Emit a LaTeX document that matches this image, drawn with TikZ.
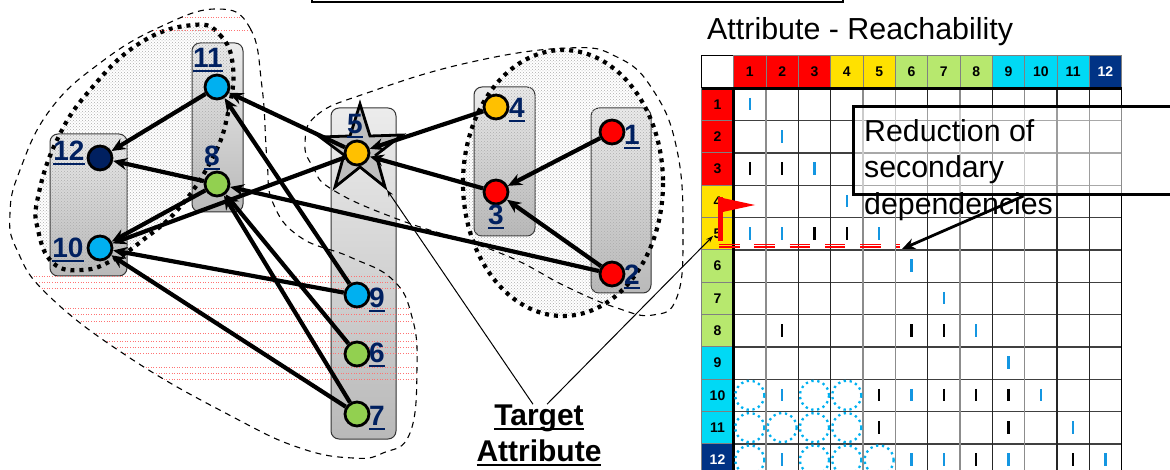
\documentclass[tikz,border=0pt]{standalone}
\usepackage{fontspec}
\setmainfont{Liberation Sans}
\usetikzlibrary{arrows.meta,shapes.geometric,patterns}

\definecolor{attrnavy}{RGB}{0,32,96}
\definecolor{attrblue}{RGB}{0,176,240}
\definecolor{attrgreen}{RGB}{146,208,80}
\definecolor{attramber}{RGB}{255,192,0}
\definecolor{headred}{RGB}{255,0,0}
\definecolor{headyellow}{RGB}{255,225,0}
\definecolor{headgreen}{RGB}{183,232,110}
\definecolor{headcyan}{RGB}{0,217,245}
\definecolor{headnavy}{RGB}{0,51,133}
\definecolor{markblue}{RGB}{20,150,225}

\newcommand{\ulabel}[1]{\leavevmode\setbox0=\hbox{#1}\hbox to \wd0{\rlap{\vrule width\wd0 height -2.5pt depth 4.5pt}\box0}}
\newcommand{\leftregion}{plot[smooth cycle, tension=0.75] coordinates {(217,9) (250,28) (262,87) (267,160) (273,203) (300,237) (350,257) (393,280) (412,317) (417,367) (410,433) (383,453) (353,458) (300,448) (233,417) (133,360) (50,297) (17,250) (10,213) (20,170) (50,110) (100,63) (160,27)}}
\newcommand{\leftblob}{plot[smooth cycle, tension=0.75] coordinates {(193,25) (220,35) (233,67) (228,113) (213,157) (180,207) (143,240) (113,260) (83,270) (53,263) (38,230) (38,197) (57,140) (90,90) (140,43)}}

\tikzset{
	attrbox/.style = {draw = black!80, line width = 1pt, rounded corners = 8pt, top color = gray!15, bottom color = gray!55},
	attrnode/.style = {draw, circle, line width = 2.8pt, inner sep = 0pt, minimum size = 24pt},
	attrlabel/.style = {anchor = base, inner sep = 0pt, text = attrnavy, font = \fontsize{28}{30}\selectfont\bfseries},
	attrarrow/.style = {-{Stealth[length = 14pt, width = 12pt]}, line width = 4.2pt},
	callout/.style = {-{Stealth[length = 7pt, width = 5pt]}, line width = 1pt},
	halftone/.style = {pattern = crosshatch dots, pattern color = gray!65},
	thickdots/.style = {line width = 4.2pt, dash pattern = on 4pt off 5pt},
	regionline/.style = {line width = 1.1pt, dash pattern = on 6pt off 5pt},
	headcell/.style = {draw = black!50, line width = 0.8pt, inner sep = 0pt, minimum width = 32.3pt, minimum height = 32.3pt, font = \fontsize{14}{14}\selectfont\bfseries},
	hitcircle/.style = {draw = attrblue, circle, line width = 2.3pt, dash pattern = on 2.3pt off 3.6pt, minimum size = 29pt, inner sep = 0pt},
	reddash/.style = {red, line width = 1.4pt, dash pattern = on 20.5pt off 14.8pt}
}

\begin{document}
\begin{tikzpicture}[x = 1pt, y = -1pt]
	\useasboundingbox (0,0) rectangle (1170,470);
	\clip (0,0) rectangle (1170,470);

	% groups of attributes
	\draw[attrbox] (192,43) rectangle (243,212);
	\draw[attrbox] (50,134) rectangle (127,276);
	\draw[attrbox] (331,108) rectangle (396,439);
	\draw[attrbox] (474,87) rectangle (535,236);
	\draw[attrbox] (591,108) rectangle (651,293);

	\fill[halftone] \leftblob;
	\fill[halftone] (563,183) ellipse (100 and 133);
	\draw[thickdots] \leftblob;
	\draw[thickdots] (563,183) ellipse (100 and 133);

	\begin{scope}
		\clip \leftregion;
		\foreach \y in {17,30,276,282,288,308,314,321,333,341,347,353,367,373,379}
			\draw[red!55, line width = 0.6pt, dotted] (0,\y) -- (430,\y);
	\end{scope}
	\draw[regionline] \leftregion;
	\draw[regionline] plot[smooth cycle, tension=0.75] coordinates {(305,143) (317,115) (367,93) (467,63) (567,48) (617,57) (653,90) (677,150) (683,233) (677,297) (653,315) (617,308) (567,287) (500,253) (400,220) (333,190) (313,167)};

	\draw[line width = 2.8pt, fill = gray!50] (360,104) -- (370,136) -- (402,135) -- (376,155) -- (385,187) -- (360,167) -- (335,187) -- (344,155) -- (320,137) -- (350,136) -- cycle;

	% attributes
	\node[attrnode, fill = headred] (a1) at (612,132) {};
	\node[attrnode, fill = headred] (a2) at (612,274) {};
	\node[attrnode, fill = headred] (a3) at (496,192) {};
	\node[attrnode, fill = attramber] (a4) at (496,107) {};
	\node[attrnode, fill = attramber] (a5) at (357,153) {};
	\node[attrnode, fill = attrgreen] (a6) at (357,354) {};
	\node[attrnode, fill = attrgreen] (a7) at (357,414) {};
	\node[attrnode, fill = attrgreen] (a8) at (217,184) {};
	\node[attrnode, fill = attrblue] (a9) at (357,295) {};
	\node[attrnode, fill = attrblue] (a10) at (100,248) {};
	\node[attrnode, fill = attrblue] (a11) at (217,87) {};
	\node[attrnode, fill = attrnavy] (a12) at (100,158) {};

	\node[attrlabel] (lab1) at (632,145) {\ulabel{1}};
	\node[attrlabel] (lab2) at (632,285) {\ulabel{2}};
	\node[attrlabel] (lab3) at (496,225) {\ulabel{3}};
	\node[attrlabel] (lab4) at (517,118) {\ulabel{4}};
	\node[attrlabel] (lab5) at (355,134) {\ulabel{5}};
	\node[attrlabel] (lab6) at (377,362) {\ulabel{6}};
	\node[attrlabel] (lab7) at (377,425) {\ulabel{7}};
	\node[attrlabel] (lab8) at (212,166) {\ulabel{8}};
	\node[attrlabel] (lab9) at (377,308) {\ulabel{9}};
	\node[attrlabel] (lab10) at (68,258) {\ulabel{10}};
	\node[attrlabel] (lab11) at (208,68) {\ulabel{11}};
	\node[attrlabel] (lab12) at (69,161) {\ulabel{12}};

	% dependencies
	\foreach \from/\to in {a11/a12, a5/a11, a9/a11, a8/a12, a8/a10, a5/a10, a9/a10, a7/a10, a2/a8, a6/a8, a7/a8, a4/a5, a3/a5, a1/a3, a2/a3}
		\draw[attrarrow] (\from) -- (\to);

	% matrix
	\node[headcell, draw = black, fill = white, anchor = center] (corner) at (717.5,71.5) {};
	\foreach \i/\c/\t in {1/headred/black, 2/headred/black, 3/headred/black, 4/headyellow/black, 5/headyellow/black, 6/headgreen/black, 7/headgreen/black, 8/headgreen/black, 9/headcyan/black, 10/headcyan/black, 11/headcyan/black, 12/headnavy/white} {
		\node[headcell, fill = \c, text = \t] (col\i) at ({717.5+32.33*\i},71.5) {\i};
		\node[headcell, fill = \c, text = \t] (row\i) at (717.5,{72+32.33*\i}) {\i};
	}
	\foreach \i in {1,...,12}
		\draw[black!75, line width = 1.2pt] (733.7,{88.3+32.33*\i}) -- (1121.5,{88.3+32.33*\i});
	\foreach \i/\c in {1/black!45, 2/black!85, 3/black!85, 4/black!45, 5/black!45, 6/black!85, 7/black!45, 8/black!85, 9/black!45, 10/black!85, 11/black!85}
		\draw[\c, line width = 1.5pt] ({733.7+32.33*\i},88.3) -- ({733.7+32.33*\i},476);
	\draw[line width = 3pt] (701.5,88.3) -- (1121.5,88.3);
	\draw[line width = 2.5pt] (733.7,88.3) -- (733.7,476);
	\draw[line width = 1pt] (1121.5,88.3) -- (1121.5,476);

	\foreach \c/\r in {1/1, 2/2, 3/3, 4/4, 1/5, 2/5, 5/5, 6/6, 7/7, 8/8, 9/9, 2/10, 6/10, 10/10, 11/11, 2/12, 6/12, 7/12, 9/12, 12/12}
		\draw[markblue, line width = 2.6pt] ({717.5+32.33*\c},{65.5+32.33*\r}) -- ({717.5+32.33*\c},{78+32.33*\r});
	\foreach \c/\r in {1/3, 2/3, 3/5, 4/5, 2/8, 6/8, 7/8, 5/10, 7/10, 8/10, 9/10, 5/11, 9/11, 8/12, 11/12}
		\draw[line width = 2.6pt] ({717.5+32.33*\c},{65.5+32.33*\r}) -- ({717.5+32.33*\c},{78+32.33*\r});
	\foreach \c/\r in {1/10, 3/10, 4/10, 1/11, 2/11, 3/11, 4/11, 1/12, 3/12, 4/12, 5/12}
		\node[hitcircle] (hit\c-\r) at ({717.5+32.33*\c},{72+32.33*\r}) {};

	\node (title) at (707,40) [anchor = base west, inner sep = 0pt, font = \fontsize{30.4}{32}\selectfont] {Attribute - Reachability};

	% reduction
	\node (reduction) at (852,105) [draw, anchor = north west, line width = 3pt, minimum width = 340pt, minimum height = 88pt, fill = white, fill opacity = 0.55, draw opacity = 1] {};
	\node (reductiontext) at (864,170) [anchor = west, align = left, inner sep = 0pt, font = \fontsize{30.3}{36.5}\selectfont] {Reduction of\\secondary\\dependencies};

	\draw[reddash] (719,244.4) -- (900,244.4);
	\draw[reddash] (719,247) -- (900,247);
	\coordinate (reductiontip) at (902,249);
	\draw[-{Stealth[length = 13pt, width = 11pt]}, line width = 2.8pt] (reduction.south) -- (reductiontip);

	\fill[red] (718,197) -- (755,205) -- (718,213) -- cycle;
	\fill[red] (718,197) rectangle (722.5,241);

	% target attribute
	\node (target) at (539,435) [align = center, inner sep = 0pt, font = \fontsize{30}{36}\selectfont\bfseries] {\ulabel{Target}\\\ulabel{Attribute}};
	\coordinate (startip) at (387,190);
	\coordinate (flagtip) at (713,236);
	\draw[callout] ([xshift = -6pt]target.north) -- (startip);
	\draw[callout] ([xshift = 8pt]target.north) -- (flagtip);

	% top frame
	\draw[line width = 1.5pt] (312,-20) rectangle (843,2);
\end{tikzpicture}
\end{document}
